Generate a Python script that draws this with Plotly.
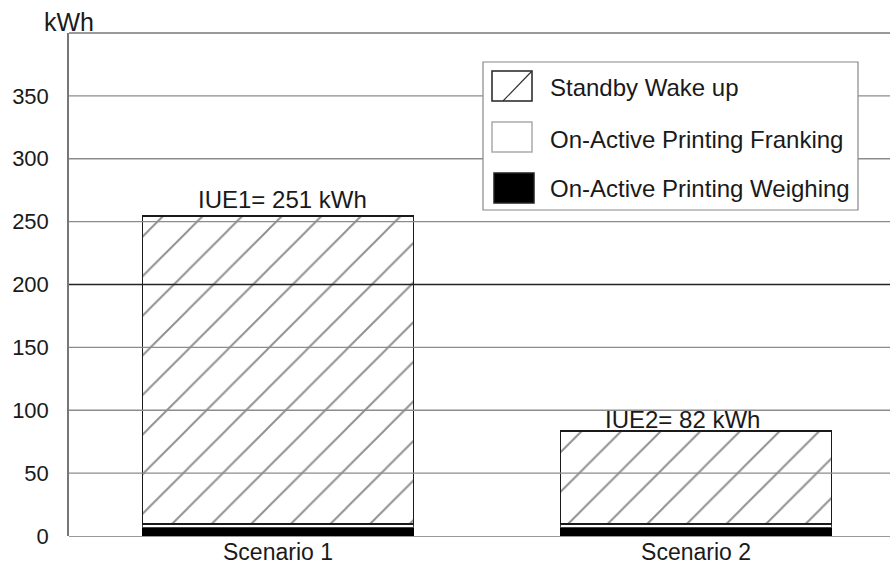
import plotly.graph_objects as go

categories = ["Scenario 1", "Scenario 2"]
weighing = [7, 7]
franking = [2.5, 2.5]
standby = [245, 74]
totals_label = ["IUE1= 251 kWh", "IUE2= 82 kWh"]
y_ticks = [0, 50, 100, 150, 200, 250, 300, 350]
legend_names = ["Standby Wake up", "On-Active Printing Franking", "On-Active Printing Weighing"]

FONT = "Liberation Sans, Arial, sans-serif"
TXT = "#1a1a1a"
BW = 0.648

fig = go.Figure()
fig.add_trace(go.Bar(
    x=categories, y=weighing, name=legend_names[2],
    marker=dict(color="black", line=dict(color="black", width=1)), width=BW,
))
fig.add_trace(go.Bar(
    x=categories, y=franking, name=legend_names[1],
    marker=dict(color="white", line=dict(color="#444444", width=1)), width=BW,
))
fig.add_trace(go.Bar(
    x=categories, y=standby, name=legend_names[0],
    marker=dict(color="white", line=dict(color="#1a1a1a", width=1.3),
                pattern=dict(shape="/", size=28, solidity=0.07, fgcolor="#222222", bgcolor="white")),
    width=BW,
))

# total labels above bars
label_xshift = [4, -14]
label_yshift = [5, 0]
tops = [w + f + s for w, f, s in zip(weighing, franking, standby)]
for c, t, lab, xs, ys in zip(categories, tops, totals_label, label_xshift, label_yshift):
    fig.add_annotation(x=c, y=t, text=lab, showarrow=False, yanchor="bottom", xshift=xs, yshift=ys - 4,
                       font=dict(family=FONT, size=24, color=TXT))

def px_x(p):
    return (p - 69) / 821.0

def px_y(p):
    return (536 - p) / 503.0

fig.add_annotation(xref="paper", yref="paper", x=px_x(96), y=1.0, text="kWh", showarrow=False,
                   xanchor="right", yanchor="bottom", yshift=-5,
                   font=dict(family=FONT, size=25, color=TXT))

# gridlines drawn above the bars (as in the reference)
for v in y_ticks[1:]:
    dark = (v == 200)
    fig.add_shape(type="line", xref="paper", yref="y", x0=0, x1=1, y0=v, y1=v,
                  line=dict(color="#222222" if dark else "#8c8c8c", width=1.3), layer="above")
# top frame line
fig.add_shape(type="line", xref="paper", yref="paper", x0=0, x1=1, y0=1, y1=1,
              line=dict(color="#777777", width=1.5))

# manual legend (paper coordinates)
fig.add_shape(type="rect", xref="paper", yref="paper",
              x0=px_x(483), x1=px_x(858), y0=px_y(210), y1=px_y(62),
              line=dict(color="#888888", width=1.2), fillcolor="white", layer="above")
sw_x = [(492, 532), (492, 532), (494, 534)]
sw_y = [(71, 101), (122, 152), (173, 203)]
sw_fill = ["white", "white", "black"]
sw_line = ["#222222", "#aaaaaa", "#222222"]
txt_y = [87, 139, 188]
for i in range(3):
    fig.add_shape(type="rect", xref="paper", yref="paper",
                  x0=px_x(sw_x[i][0]), x1=px_x(sw_x[i][1]),
                  y0=px_y(sw_y[i][1]), y1=px_y(sw_y[i][0]),
                  line=dict(color=sw_line[i], width=1.5), fillcolor=sw_fill[i], layer="above")
    fig.add_annotation(xref="paper", yref="paper", x=px_x(548), y=px_y(txt_y[i]),
                       text=legend_names[i], showarrow=False, xanchor="left", yanchor="middle",
                       font=dict(family=FONT, size=24, color=TXT))
fig.add_shape(type="line", xref="paper", yref="paper",
              x0=px_x(503), x1=px_x(532), y0=px_y(101), y1=px_y(71),
              line=dict(color="#333333", width=1.2), layer="above")

fig.update_layout(
    width=890, height=569,
    margin=dict(l=69, r=0, t=33, b=33),
    barmode="stack",
    plot_bgcolor="white", paper_bgcolor="white",
    font=dict(family=FONT, size=22, color=TXT),
    showlegend=False,
    xaxis=dict(range=[-0.5, 1.464], showgrid=False, showline=False, ticks="",
               tickfont=dict(family=FONT, size=23, color=TXT), zeroline=False),
    yaxis=dict(range=[0, 400], tickvals=y_ticks, showgrid=False,
               showline=True, linecolor="#777777", linewidth=1.5, mirror=False,
               zeroline=True, zerolinecolor="#999999", zerolinewidth=1.3,
               ticks="", ticklabelstandoff=14, tickfont=dict(family=FONT, size=22, color=TXT)),
)

fig.write_html("out.html", config={"displayModeBar": False},
               post_script="document.body.style.margin='0';")
